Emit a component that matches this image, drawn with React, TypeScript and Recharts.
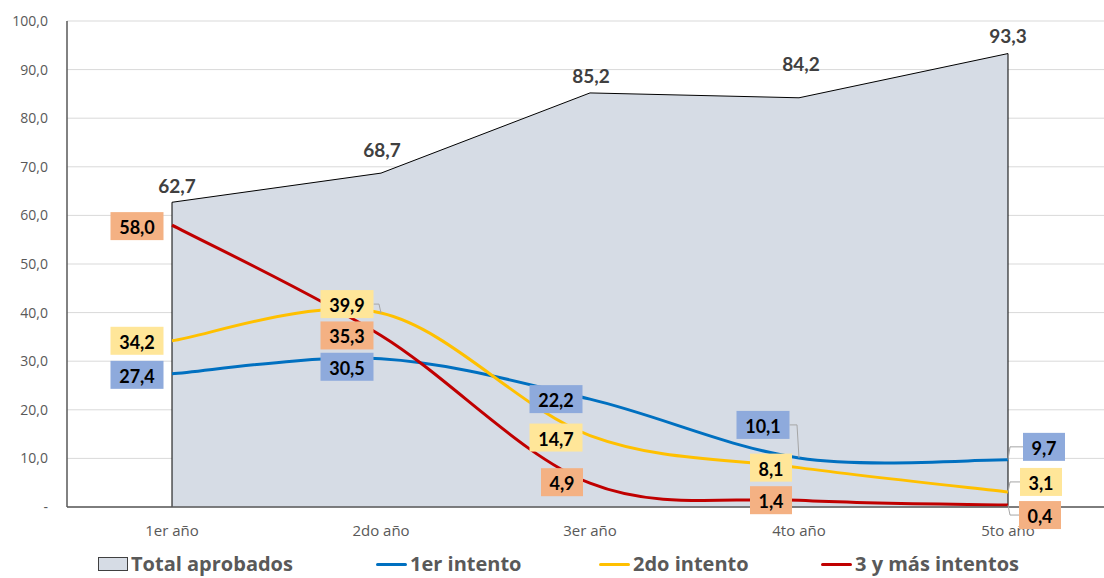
import {
  ComposedChart,
  Area,
  Line,
  XAxis,
  YAxis,
  CartesianGrid,
  Legend,
  LabelList,
  ReferenceLine,
} from 'recharts'

const years = ['1er año', '2do año', '3er año', '4to año', '5to año']
const totalAprobados = [62.7, 68.7, 85.2, 84.2, 93.3]
const primerIntento = [27.4, 30.5, 22.2, 10.1, 9.7]
const segundoIntento = [34.2, 39.9, 14.7, 8.1, 3.1]
const tercerIntento = [58.0, 35.3, 4.9, 1.4, 0.4]
const yTicks = [0, 10, 20, 30, 40, 50, 60, 70, 80, 90, 100]

const data = years.map((year, i) => ({
  year,
  total: totalAprobados[i],
  primer: primerIntento[i],
  segundo: segundoIntento[i],
  tercer: tercerIntento[i],
}))

// label placement (box centre relative to the point), as in the original sheet
type Offset = { dx: number; dy: number; leader?: boolean }
const primerPos: Offset[] = [
  { dx: -35, dy: 1 },
  { dx: -34, dy: 8 },
  { dx: -34, dy: 0 },
  { dx: -36, dy: -33, leader: true },
  { dx: 36, dy: -13, leader: true },
]
const segundoPos: Offset[] = [
  { dx: -35, dy: 0 },
  { dx: -34, dy: -9, leader: true },
  { dx: -34, dy: 2 },
  { dx: -28, dy: 0 },
  { dx: 33, dy: -10, leader: true },
]
const tercerPos: Offset[] = [
  { dx: -35, dy: 1 },
  { dx: -34, dy: 0 },
  { dx: -28, dy: -1 },
  { dx: -28, dy: 0 },
  { dx: 32, dy: 10, leader: true },
]
const totalPos: Offset[] = [
  { dx: 5, dy: -17 },
  { dx: 1, dy: -24 },
  { dx: 1, dy: -17 },
  { dx: 2, dy: -34 },
  { dx: 0, dy: -18 },
]

const fmt = (v: number) => (v === 0 ? '-' : v.toFixed(1).replace('.', ','))

// Excel-like smoothing (catmull-rom through the points)
function excelSmooth(context: any) {
  let pts: [number, number][] = []
  return {
    areaStart() {},
    areaEnd() {},
    lineStart() {
      pts = []
    },
    point(x: number, y: number) {
      pts.push([+x, +y])
    },
    lineEnd() {
      const n = pts.length
      if (!n) return
      context.moveTo(pts[0][0], pts[0][1])
      for (let i = 0; i < n - 1; i++) {
        const p0 = pts[Math.max(i - 1, 0)]
        const p1 = pts[i]
        const p2 = pts[i + 1]
        const p3 = pts[Math.min(i + 2, n - 1)]
        context.bezierCurveTo(
          p1[0] + (p2[0] - p0[0]) / 6,
          p1[1] + (p2[1] - p0[1]) / 6,
          p2[0] - (p3[0] - p1[0]) / 6,
          p2[1] - (p3[1] - p1[1]) / 6,
          p2[0],
          p2[1]
        )
      }
    },
  }
}

const boxLabel = (pos: Offset[], fill: string) => (props: any) => {
  const { x, y, value, index } = props
  const o = pos[index]
  if (!o) return null
  const text = fmt(value)
  const w = text.length > 3 ? 53 : 42
  const h = 28
  const cx = x + o.dx
  const cy = y + o.dy
  let leader = null
  if (o.leader) {
    const dir = o.dx < 0 ? 1 : -1
    const edgeX = cx + (dir * w) / 2
    leader = (
      <polyline
        points={`${edgeX},${cy} ${x - dir * 2},${cy} ${x},${y}`}
        fill="none"
        stroke="#a6a6a6"
        strokeWidth={1}
      />
    )
  }
  return (
    <g>
      {leader}
      <rect x={cx - w / 2} y={cy - h / 2} width={w} height={h} fill={fill} />
      <text
        x={cx}
        y={cy + 1}
        textAnchor="middle"
        dominantBaseline="central"
        fontSize={18}
        fontWeight={700}
        fill="#000"
      >
        {text}
      </text>
    </g>
  )
}

const totalLabel = (props: any) => {
  const { x, y, value, index } = props
  const o = totalPos[index]
  return (
    <text
      x={x + o.dx}
      y={y + o.dy}
      textAnchor="middle"
      dominantBaseline="central"
      fontSize={19}
      fontWeight={700}
      fill="#404040"
    >
      {fmt(value)}
    </text>
  )
}

const legendItems = [
  { name: 'Total aprobados', color: '#d6dce5', kind: 'area', left: 98 },
  { name: '1er intento', color: '#0070c0', kind: 'line', left: 376 },
  { name: '2do intento', color: '#ffc000', kind: 'line', left: 599 },
  { name: '3 y más intentos', color: '#c00000', kind: 'line', left: 821 },
]

const renderLegend = () => (
  <div style={{ position: 'relative', width: 1104, height: 31 }}>
    {legendItems.map((it) => (
      <div
        key={it.name}
        style={{
          position: 'absolute',
          left: it.left,
          top: 4,
          height: 26,
          display: 'flex',
          alignItems: 'center',
          whiteSpace: 'nowrap',
          lineHeight: '26px',
        }}
      >
        {it.kind === 'area' ? (
          <span
            style={{
              display: 'inline-block',
              width: 28,
              height: 12,
              background: it.color,
              border: '1.5px solid #404040',
              marginRight: 3,
            }}
          />
        ) : (
          <span
            style={{
              display: 'inline-block',
              width: 31,
              height: 3,
              background: it.color,
              borderRadius: 2,
              marginRight: 3,
            }}
          />
        )}
        <span
          style={{
            fontFamily: '"Open Sans", sans-serif',
            fontSize: 20,
            fontWeight: 700,
            color: '#595959',
          }}
        >
          {it.name}
        </span>
      </div>
    ))}
  </div>
)

export default function App() {
  return (
    <div
      style={{
        position: 'absolute',
        left: 0,
        top: 0,
        width: 1104,
        height: 578,
        background: '#fff',
        fontFamily: 'Lato, "Open Sans", sans-serif',
      }}
    >
      <ComposedChart
        width={1104}
        height={578}
        data={data}
        margin={{ top: 21, right: 0, bottom: 0, left: 0 }}
      >
        <CartesianGrid vertical={false} stroke="#d9d9d9" strokeWidth={1} />
        <XAxis
          dataKey="year"
          padding={{ left: 105, right: 96 }}
          height={40}
          tickSize={0}
          tickMargin={18}
          axisLine={{ stroke: '#595959', strokeWidth: 1.5 }}
          tick={{ fill: '#595959', fontSize: 15, fontFamily: '"Open Sans", sans-serif' }}
        />
        <YAxis
          width={67}
          domain={[0, 100]}
          ticks={yTicks}
          interval={0}
          tickFormatter={fmt}
          tickSize={0}
          tickMargin={19}
          axisLine={{ stroke: '#595959', strokeWidth: 1.5 }}
          tick={{ fill: '#595959', fontSize: 14, fontFamily: '"Open Sans", sans-serif' }}
        />
        <Legend verticalAlign="bottom" height={31} content={renderLegend} />
        <Area
          type="linear"
          dataKey="total"
          name="Total aprobados"
          stroke="#000"
          strokeWidth={1}
          fill="#d6dce5"
          fillOpacity={1}
          isAnimationActive={false}
        >
          <LabelList dataKey="total" content={totalLabel} />
        </Area>
        <ReferenceLine
          segment={[
            { x: years[0], y: 0 },
            { x: years[0], y: totalAprobados[0] },
          ]}
          stroke="#000"
          strokeWidth={1}
        />
        <ReferenceLine
          segment={[
            { x: years[4], y: 0 },
            { x: years[4], y: totalAprobados[4] },
          ]}
          stroke="#000"
          strokeWidth={1}
        />
        <Line
          type={excelSmooth as any}
          dataKey="primer"
          name="1er intento"
          stroke="#0070c0"
          strokeWidth={3}
          dot={false}
          activeDot={false}
          isAnimationActive={false}
        >
          <LabelList dataKey="primer" content={boxLabel(primerPos, '#8eaadc')} />
        </Line>
        <Line
          type={excelSmooth as any}
          dataKey="segundo"
          name="2do intento"
          stroke="#ffc000"
          strokeWidth={3}
          dot={false}
          activeDot={false}
          isAnimationActive={false}
        >
          <LabelList dataKey="segundo" content={boxLabel(segundoPos, '#ffe699')} />
        </Line>
        <Line
          type={excelSmooth as any}
          dataKey="tercer"
          name="3 y más intentos"
          stroke="#c00000"
          strokeWidth={3}
          dot={false}
          activeDot={false}
          isAnimationActive={false}
        >
          <LabelList dataKey="tercer" content={boxLabel(tercerPos, '#f4b183')} />
        </Line>
      </ComposedChart>
    </div>
  )
}
